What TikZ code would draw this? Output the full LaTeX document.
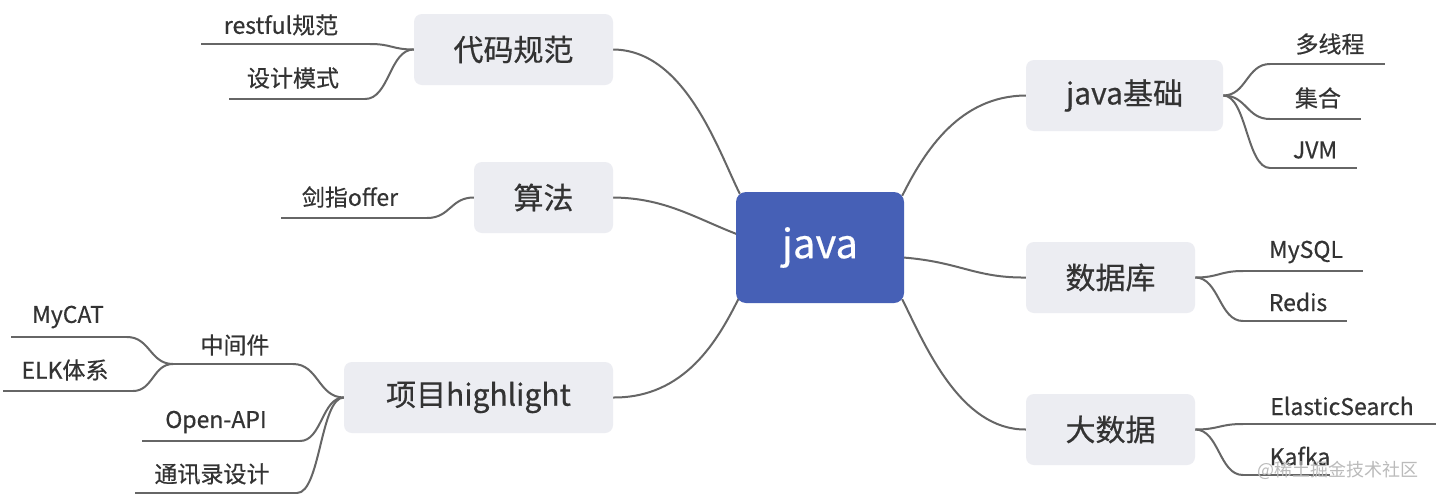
\documentclass[tikz,border=0pt]{standalone}
\usepackage{fontspec}
\setmainfont{Noto Sans CJK SC}[FakeBold=0.5]
\newfontfamily\wmfont{Noto Sans CJK SC}
\usetikzlibrary{calc,backgrounds}
\definecolor{javablue}{HTML}{4660B6}
\definecolor{boxgrey}{HTML}{ECEDF2}
\definecolor{txt}{HTML}{333333}
\definecolor{lnk}{HTML}{666666}
\definecolor{wm}{HTML}{BBBBBB}
\tikzset{
  branch/.style={rounded corners=8pt, fill=boxgrey, inner sep=0pt, minimum height=71pt, text=txt, font=\fontsize{30}{34}\selectfont},
  rootbox/.style={rounded corners=10pt, fill=javablue, inner sep=0pt, minimum width=168pt, minimum height=111pt, text=white, font=\fontsize{40}{46}\selectfont},
  leaf/.style={inner sep=0pt, text=txt, font=\fontsize{23}{27}\selectfont},
  link/.style={draw=lnk, line width=2pt},
}
\newcommand\mmcurve[2]{\draw[link] let \p1=(#1), \p2=(#2) in (\p1) .. controls ({(\x1+\x2)/2},\y1) and ({(\x1+\x2)/2},\y2) .. (\p2);}
\newcommand\mmline[2]{\draw[link] (#1) -- (#2);}
\begin{document}
\begin{tikzpicture}[x=1pt,y=-1pt]
\useasboundingbox (0,0) rectangle (1436,496);

% boxes
\node[rootbox] (java) at (820,247.5) {\raisebox{-5pt}{java}};
\node[branch, minimum width=199pt] (dm) at (513.5,49.5) {代码规范};
\node[branch, minimum width=139pt] (sf) at (543.5,197.5) {算法};
\node[branch, minimum width=269pt] (xm) at (478.5,397.5) {项目highlight};
\node[branch, minimum width=197pt] (jc) at (1124.5,95.5) {java基础};
\node[branch, minimum width=169pt] (sj) at (1110.5,277.5) {数据库};
\node[branch, minimum width=169pt] (ds) at (1110.5,429.5) {大数据};

% leaf texts
\node[leaf] (t1) at (281,25) {restful规范};
\node[leaf] (t2) at (293,78) {设计模式};
\node[leaf] (t3) at (350,197) {剑指offer};
\node[leaf] (t4) at (235,345) {中间件};
\node[leaf] (t5) at (68,317) {MyCAT};
\node[leaf] (t6) at (65,370) {ELK体系};
\node[leaf] (t7) at (216,422) {Open-API};
\node[leaf] (t8) at (212,474) {通讯录设计};
\node[leaf] (t9) at (1330,44) {多线程};
\node[leaf] (t10) at (1318,98) {集合};
\node[leaf] (t11) at (1315,150) {JVM};
\node[leaf] (t12) at (1306,252) {MySQL};
\node[leaf] (t13) at (1298,302) {Redis};
\node[leaf] (t14) at (1342,406) {ElasticSearch};
\node[leaf] (t15) at (1300,456) {Kafka};

% underline ends
\coordinate (a1) at (201,44);  \coordinate (b1) at (370,44);
\coordinate (a2) at (229,99);  \coordinate (b2) at (365,99);
\coordinate (a3) at (281,218); \coordinate (b3) at (427,218);
\coordinate (a4) at (173,364); \coordinate (b4) at (293,364);
\coordinate (a5) at (11,337);  \coordinate (b5) at (127,337);
\coordinate (a6) at (3,391);   \coordinate (b6) at (133,391);
\coordinate (a7) at (142,441); \coordinate (b7) at (300,441);
\coordinate (a8) at (135,493); \coordinate (b8) at (297,493);
\coordinate (a9) at (1270,64);  \coordinate (b9) at (1385,64);
\coordinate (a10) at (1270,119); \coordinate (b10) at (1361,119);
\coordinate (a11) at (1270,168); \coordinate (b11) at (1357,168);
\coordinate (a12) at (1243,271); \coordinate (b12) at (1363,271);
\coordinate (a13) at (1243,321); \coordinate (b13) at (1347,321);
\coordinate (a14) at (1243,424); \coordinate (b14) at (1436,424);
\coordinate (a15) at (1243,475); \coordinate (b15) at (1330,475);

% java anchors
\coordinate (jNW) at ($(java.north west)+(4,2)$);
\coordinate (jW)  at ($(java.west)+(2,-13)$);
\coordinate (jSW) at ($(java.south west)+(3,-5)$);
\coordinate (jNE) at ($(java.north east)+(-2,4)$);
\coordinate (jE)  at ($(java.east)+(-1,10)$);
\coordinate (jSE) at ($(java.south east)+(-2,-4)$);

\begin{scope}[on background layer]
\fill[white] (0,0) rectangle (1436,496);
\draw[link] (dm.east) .. controls (685,50) and (718,150) .. (jNW);
\draw[link] (sf.east) .. controls (665,198) and (695,218) .. (jW);
\draw[link] (xm.east) .. controls (685,398) and (718,340) .. (jSW);
\draw[link] (jNE) .. controls (925,150) and (960,96) .. (jc.west);
\draw[link] (jE) .. controls (960,262) and (975,278) .. (sj.west);
\draw[link] (jSE) .. controls (925,345) and (960,430) .. (ds.west);

\mmcurve{dm.west}{b1} \mmline{b1}{a1}
\mmcurve{dm.west}{b2} \mmline{b2}{a2}
\mmcurve{sf.west}{b3} \mmline{b3}{a3}
\mmcurve{xm.west}{b4} \mmline{b4}{a4}
\mmcurve{a4}{b5} \mmline{b5}{a5}
\mmcurve{a4}{b6} \mmline{b6}{a6}
\mmcurve{xm.west}{b7} \mmline{b7}{a7}
\mmcurve{xm.west}{b8} \mmline{b8}{a8}
\mmcurve{jc.east}{a9} \mmline{a9}{b9}
\mmcurve{jc.east}{a10} \mmline{a10}{b10}
\mmcurve{jc.east}{a11} \mmline{a11}{b11}
\mmcurve{sj.east}{a12} \mmline{a12}{b12}
\mmcurve{sj.east}{a13} \mmline{a13}{b13}
\mmcurve{ds.east}{a14} \mmline{a14}{b14}
\mmcurve{ds.east}{a15} \mmline{a15}{b15}
\end{scope}

% watermark
\node[inner sep=0pt, text=wm, font=\wmfont\fontsize{18}{20}\selectfont] (wmk) at (1338,470) {@稀土掘金技术社区};
\end{tikzpicture}
\end{document}
